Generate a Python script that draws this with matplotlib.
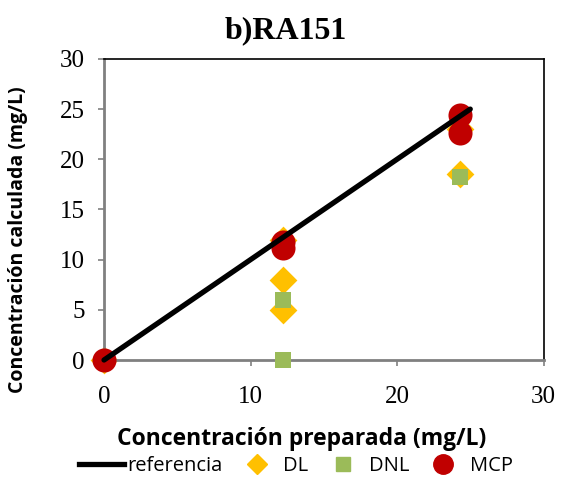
import matplotlib.pyplot as plt
from matplotlib.lines import Line2D

# datos
ref_x = [0, 25]
ref_y = [0, 25]
dl_x = [0, 12.2, 12.2, 12.2, 24.3, 24.3]
dl_y = [0, 12.0, 8.0, 5.0, 18.5, 23.0]
dnl_x = [0, 12.2, 12.2, 24.3]
dnl_y = [0, 6.0, 0.0, 18.2]
mcp_x = [0, 12.2, 12.2, 24.3, 24.3]
mcp_y = [0, 11.8, 11.2, 24.4, 22.6]

fig = plt.figure(figsize=(5.86, 4.79), dpi=100)
ax = fig.add_axes([0.1775, 0.2484, 0.75, 0.6286])

ax.scatter(dl_x, dl_y, marker="D", s=200, color="#FFC000", linewidths=0, zorder=2, clip_on=False)
ax.scatter(dnl_x, dnl_y, marker="s", s=140, color="#9BBB59", linewidths=0, zorder=3, clip_on=False)
ax.scatter(mcp_x, mcp_y, marker="o", s=300, color="#C00000", linewidths=0, zorder=4, clip_on=False)
ax.plot(ref_x, ref_y, color="black", lw=3.8, zorder=5, solid_capstyle="round", clip_on=False)

ax.set_xlim(0, 30)
ax.set_ylim(0, 30)
ax.set_xticks([0, 10, 20, 30])
ax.set_yticks(range(0, 31, 5))
for s in ax.spines.values():
    s.set_color("black")
    s.set_linewidth(1.2)
ax.spines["left"].set_color("#808080")
ax.spines["bottom"].set_color("#808080")
ax.spines["left"].set_linewidth(2)
ax.spines["bottom"].set_linewidth(2)
ax.tick_params(direction="out", length=4, width=1.2, color="#808080", labelsize=18)
ax.tick_params(axis="x", pad=15)
ax.tick_params(axis="y", pad=10)
for lab in ax.get_xticklabels() + ax.get_yticklabels():
    lab.set_fontfamily("Liberation Serif")

fig.text(0.488, 0.935, "b)RA151", fontsize=23, fontweight="bold",
         family="Liberation Serif", ha="center", va="center")
ax.set_xlabel("Concentración preparada (mg/L)", fontsize=16.5, fontweight="bold",
              family="Open Sans")
ax.set_ylabel("Concentración calculada (mg/L)", fontsize=14, fontweight="bold",
              family="Open Sans")
ax.xaxis.set_label_coords(0.45, -0.222)
ax.yaxis.set_label_coords(-0.172, 0.40)

handles = [
    Line2D([], [], color="black", lw=3.8),
    Line2D([], [], marker="D", ls="", color="#FFC000", markersize=10),
    Line2D([], [], marker="s", ls="", color="#9BBB59", markersize=10),
    Line2D([], [], marker="o", ls="", color="#C00000", markersize=14),
]
fig.legend(handles, ["referencia", "DL", "DNL", "MCP"], loc="center",
           bbox_to_anchor=(0.505, 0.028), ncol=4, frameon=False,
           prop={"family": "Open Sans", "size": 14.5}, handlelength=2.2,
           handletextpad=0.2, columnspacing=0.6, borderpad=0.1)

fig.savefig("out.png", dpi=100)
